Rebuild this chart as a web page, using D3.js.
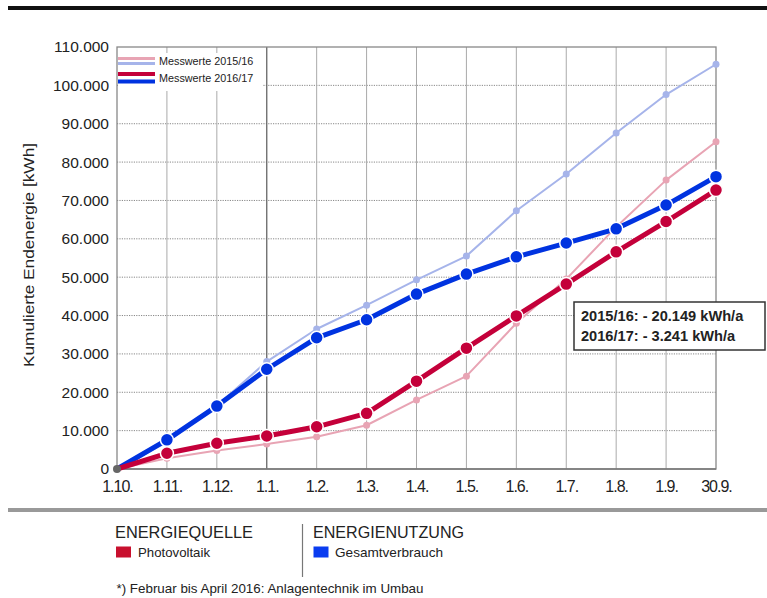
<!DOCTYPE html>
<html><head><meta charset="utf-8">
<script src="https://cdn.jsdelivr.net/npm/d3@7"></script>
<style>
html,body{margin:0;padding:0;background:#fff;}
svg{display:block;font-family:"Liberation Sans",Arial,sans-serif;}
</style></head>
<body>
<script>
const months = ["1.10.","1.11.","1.12.","1.1.","1.2.","1.3.","1.4.","1.5.","1.6.","1.7.","1.8.","1.9.","30.9."];
const yTicks = [0,10000,20000,30000,40000,50000,60000,70000,80000,90000,100000,110000];
const pv1516 = [0,2800,4800,6500,8400,11400,18000,24200,38000,49500,63100,75300,85300];
const pv1617 = [0,4100,6700,8600,11000,14500,22900,31500,39900,48200,56600,64500,72700];
const gv1516 = [0,7000,16500,28000,36500,42700,49300,55500,67300,76900,87600,97600,105500];
const gv1617 = [0,7600,16400,26000,34200,38900,45600,50800,55300,58900,62600,68800,76200];
const legendTop = ["Messwerte 2015/16","Messwerte 2016/17"];
const annot = ["2015/16: - 20.149 kWh/a","2016/17: - 3.241 kWh/a"];

const W=767,H=598;
const svg=d3.select("body").append("svg").attr("width",W).attr("height",H);
const L=117,R=716,T=47,B=469;
const x=d3.scalePoint().domain(months).range([L,R]);
const y=d3.scaleLinear().domain([0,110000]).range([B,T]);
const fmt=v=>v===0?"0":d3.format(",")(v).replace(/,/g,".");

// top bar
svg.append("rect").attr("x",8).attr("y",6).attr("width",W-8).attr("height",4).attr("fill","#111");
// bottom gray bar
svg.append("rect").attr("x",8).attr("y",508).attr("width",W-8).attr("height",4).attr("fill","#999");

// horizontal dotted grid
svg.append("g").selectAll("line").data(yTicks.filter(d=>d>0&&d<110000)).join("line")
  .attr("x1",L).attr("x2",R).attr("y1",d=>y(d)).attr("y2",d=>y(d))
  .attr("stroke","#888").attr("stroke-width",1).attr("stroke-dasharray","1.2,1.2");
// vertical grid
svg.append("g").selectAll("line").data(months.slice(1,-1)).join("line")
  .attr("x1",d=>x(d)).attr("x2",d=>x(d)).attr("y1",T).attr("y2",B)
  .attr("stroke",d=>d==="1.1."?"#666":"#aaa").attr("stroke-width",d=>d==="1.1."?1.3:1);
// frame
svg.append("rect").attr("x",L).attr("y",T).attr("width",R-L).attr("height",B-T)
  .attr("fill","none").attr("stroke","#888").attr("stroke-width",1.3);
svg.append("line").attr("x1",L).attr("x2",R).attr("y1",B).attr("y2",B).attr("stroke","#777").attr("stroke-width",1.5);

// y axis labels
const yAxis=d3.axisLeft(y).tickValues(yTicks).tickFormat(fmt).tickSize(0).tickPadding(8);
const gy=svg.append("g").attr("transform",`translate(${L},0)`).call(yAxis);
gy.select(".domain").remove();
gy.selectAll("text").attr("font-size","15.5px").attr("fill","#222").attr("font-family","Liberation Sans, Arial, sans-serif");
// x axis labels
const xAxis=d3.axisBottom(x).tickSize(0).tickPadding(12);
const gx=svg.append("g").attr("transform",`translate(0,${B})`).call(xAxis);
gx.select(".domain").remove();
gx.selectAll("text").attr("font-size","16px").attr("fill","#222").attr("font-family","Liberation Sans, Arial, sans-serif").attr("letter-spacing","-1");

// y title
svg.append("text").attr("transform","translate(34,255) rotate(-90)").attr("text-anchor","middle")
  .attr("font-size","15.5px").attr("fill","#222").attr("textLength",224).attr("lengthAdjust","spacingAndGlyphs")
  .text("Kumulierte Endenergie [kWh]");

// legend box in plot
svg.append("rect").attr("x",L+1).attr("y",53).attr("width",145).attr("height",38).attr("fill","#fff");
const lg=[{c1:"#e8a4b4",c2:"#a6b4ea",w:3,y1:58.5,y2:63.5,ty:64.5,t:legendTop[0]},
          {c1:"#c4003a",c2:"#0033e0",w:4,y1:74,y2:81.5,ty:81.5,t:legendTop[1]}];
lg.forEach(d=>{
  svg.append("line").attr("x1",118).attr("x2",155).attr("y1",d.y1).attr("y2",d.y1).attr("stroke",d.c1).attr("stroke-width",d.w);
  svg.append("line").attr("x1",118).attr("x2",155).attr("y1",d.y2).attr("y2",d.y2).attr("stroke",d.c2).attr("stroke-width",d.w);
  svg.append("text").attr("x",159).attr("y",d.ty).attr("font-size","10.8px").attr("fill","#222").text(d.t);
});

// series
const series=[
  {data:gv1516,color:"#a6b4ea",w:2,r:3.5,sw:0},
  {data:pv1516,color:"#e8a4b4",w:2,r:3.5,sw:0},
  {data:gv1617,color:"#0033e0",w:5,r:6.5,sw:1.5},
  {data:pv1617,color:"#c4003a",w:5,r:6.5,sw:1.5}
];
const line=d3.line().x((d,i)=>x(months[i])).y(d=>y(d));
series.forEach(s=>{
  svg.append("path").datum(s.data).attr("d",line).attr("fill","none").attr("stroke",s.color)
    .attr("stroke-width",s.w).attr("stroke-linejoin","round");
});
series.forEach(s=>{
  svg.append("g").selectAll("circle").data(s.data.map((v,i)=>({v,i})).filter(d=>d.i>0)).join("circle")
    .attr("cx",d=>x(months[d.i])).attr("cy",d=>y(d.v)).attr("r",s.r)
    .attr("fill",s.color).attr("stroke","#fff").attr("stroke-width",s.sw);
});
svg.append("circle").attr("cx",x(months[0])).attr("cy",y(0)).attr("r",4).attr("fill","#666");

// annotation box
svg.append("rect").attr("x",574).attr("y",302).attr("width",191).attr("height",48)
  .attr("fill","#fff").attr("stroke","#333").attr("stroke-width",1.5);
annot.forEach((t,i)=>{
  svg.append("text").attr("x",581).attr("y",321+i*20).attr("font-size","14.6px").attr("font-weight","bold")
    .attr("fill","#222").text(t);
});

// bottom legend
function txt(xp,yp,size,len,t){
  svg.append("text").attr("x",xp).attr("y",yp).attr("font-size",size+"px").attr("fill","#222")
    .attr("textLength",len).attr("lengthAdjust","spacingAndGlyphs").text(t);
}
txt(115,538,16.5,138,"ENERGIEQUELLE");
svg.append("rect").attr("x",116).attr("y",546.5).attr("width",15).attr("height",11).attr("fill","#c8102e");
txt(138,556.5,13.5,72,"Photovoltaik");
svg.append("line").attr("x1",302.5).attr("x2",302.5).attr("y1",524).attr("y2",577).attr("stroke","#777").attr("stroke-width",1.2);
txt(313,538,16.5,151,"ENERGIENUTZUNG");
svg.append("rect").attr("x",313.5).attr("y",546.5).attr("width",15).attr("height",11).attr("fill","#0a3cf0");
txt(335,556.5,13.5,108,"Gesamtverbrauch");
txt(116.5,592.5,13.4,307,"*) Februar bis April 2016: Anlagentechnik im Umbau");
</script>
</body></html>
